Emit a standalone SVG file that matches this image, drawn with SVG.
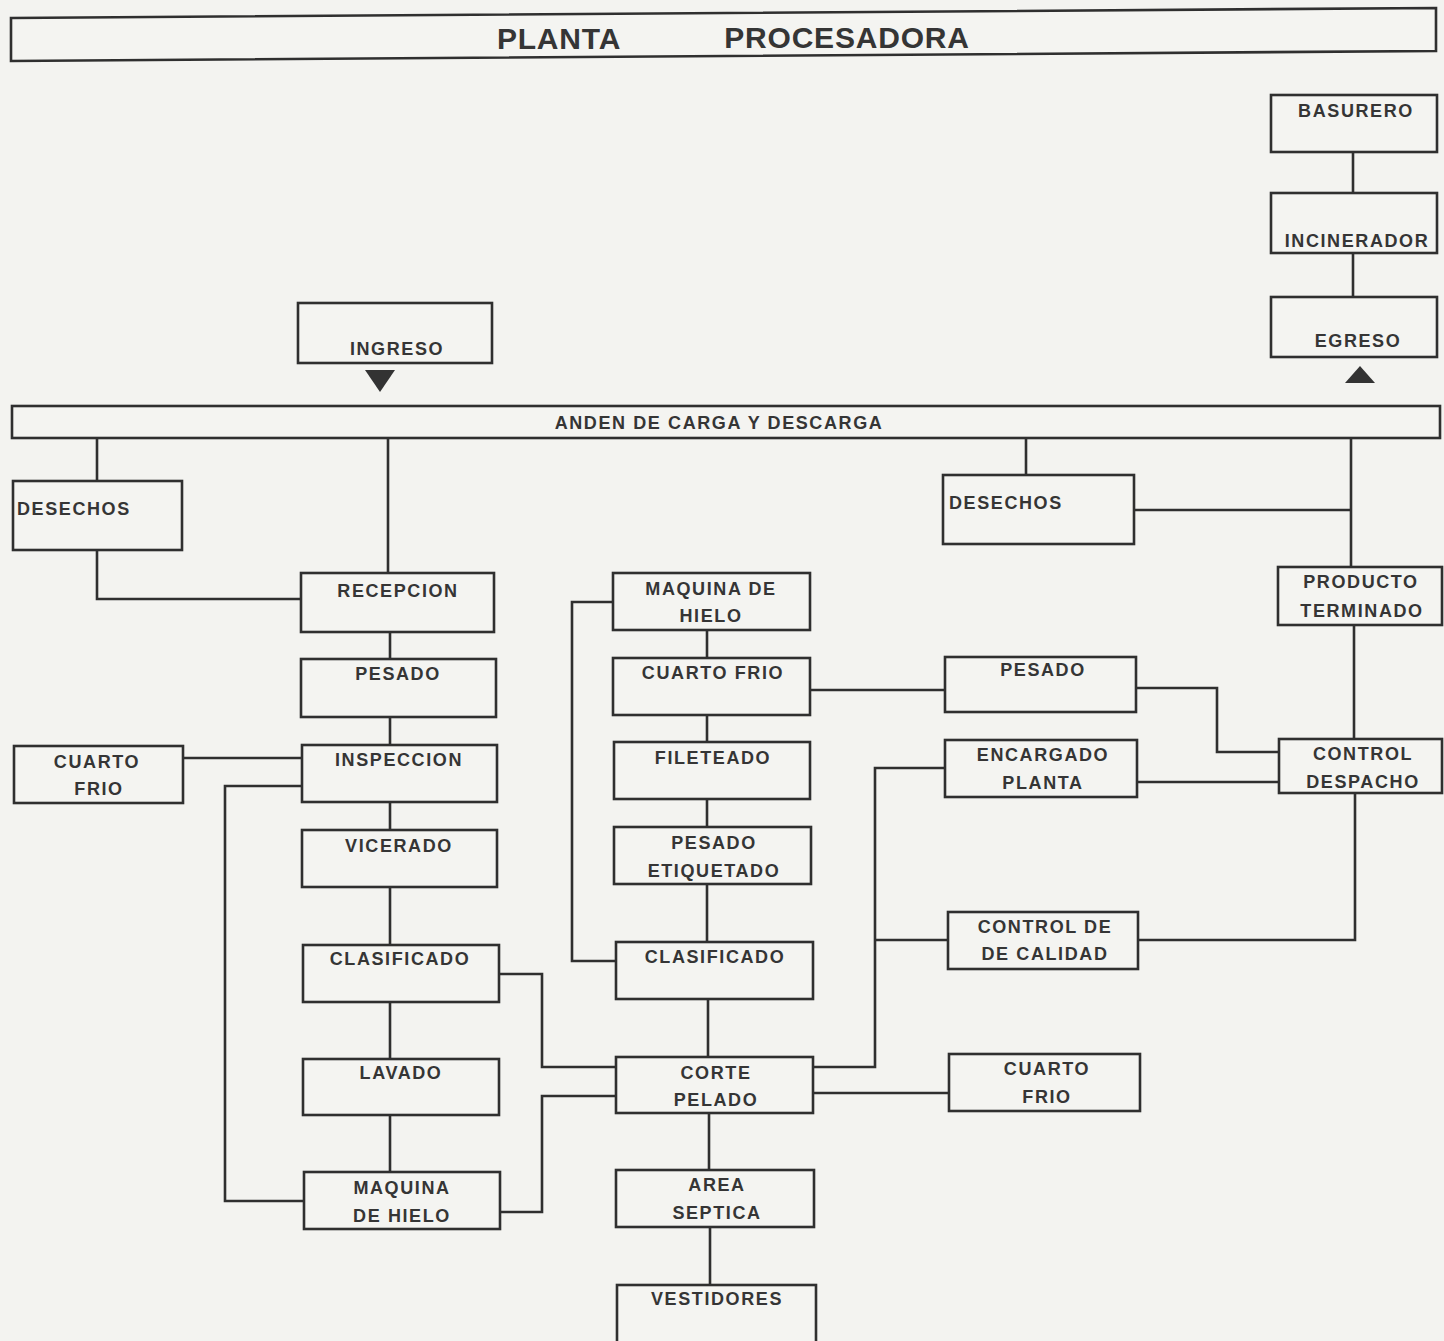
<svg xmlns="http://www.w3.org/2000/svg" width="1444" height="1341" viewBox="0 0 1444 1341">
  <style>
    .box { fill: #f4f4f1; stroke: #2f2f2f; stroke-width: 2.6; }
    .ln { fill: none; stroke: #2f2f2f; stroke-width: 2.6; }
    .lbl { font-family: "Liberation Sans", Arial, sans-serif; font-weight: bold; font-size: 18px; fill: #353535; letter-spacing: 1.6px; text-anchor: middle; }
    .lft { text-anchor: start; }
    .ttl { font-family: "Liberation Sans", Arial, sans-serif; font-weight: bold; font-size: 30px; fill: #353535; letter-spacing: 0.8px; text-anchor: middle; }
    .tri { fill: #333333; }
  </style>
  <rect width="1444" height="1341" fill="#f3f3f0"/>

  <!-- connectors -->
  <g id="connectors">
    <line class="ln" x1="1353" y1="152" x2="1353" y2="193"/>
    <line class="ln" x1="1353" y1="253" x2="1353" y2="297"/>
    <line class="ln" x1="97" y1="438" x2="97" y2="481"/>
    <polyline class="ln" points="97,550 97,599 301,599"/>
    <line class="ln" x1="388" y1="438" x2="388" y2="573"/>
    <line class="ln" x1="390" y1="632" x2="390" y2="659"/>
    <line class="ln" x1="390" y1="717" x2="390" y2="745"/>
    <line class="ln" x1="390" y1="802" x2="390" y2="830"/>
    <line class="ln" x1="390" y1="887" x2="390" y2="945"/>
    <line class="ln" x1="390" y1="1002" x2="390" y2="1059"/>
    <line class="ln" x1="390" y1="1115" x2="390" y2="1172"/>
    <line class="ln" x1="183" y1="758" x2="302" y2="758"/>
    <polyline class="ln" points="302,786 225,786 225,1201 304,1201"/>
    <polyline class="ln" points="499,974 542,974 542,1067 616,1067"/>
    <polyline class="ln" points="500,1212 542,1212 542,1096 616,1096"/>
    <polyline class="ln" points="613,602 572,602 572,961 616,961"/>
    <line class="ln" x1="707" y1="630" x2="707" y2="658"/>
    <line class="ln" x1="707" y1="715" x2="707" y2="742"/>
    <line class="ln" x1="707" y1="799" x2="707" y2="827"/>
    <line class="ln" x1="707" y1="884" x2="707" y2="942"/>
    <line class="ln" x1="708" y1="999" x2="708" y2="1057"/>
    <line class="ln" x1="709" y1="1113" x2="709" y2="1170"/>
    <line class="ln" x1="710" y1="1227" x2="710" y2="1285"/>
    <line class="ln" x1="810" y1="690" x2="945" y2="690"/>
    <polyline class="ln" points="1136,688 1217,688 1217,752 1279,752"/>
    <line class="ln" x1="1137" y1="782" x2="1279" y2="782"/>
    <polyline class="ln" points="945,768 875,768 875,1067 813,1067"/>
    <line class="ln" x1="948" y1="940" x2="875" y2="940"/>
    <polyline class="ln" points="1138,940 1355,940 1355,793"/>
    <line class="ln" x1="813" y1="1093" x2="949" y2="1093"/>
    <line class="ln" x1="1026" y1="438" x2="1026" y2="475"/>
    <line class="ln" x1="1134" y1="510" x2="1351" y2="510"/>
    <line class="ln" x1="1351" y1="438" x2="1351" y2="567"/>
    <line class="ln" x1="1354" y1="625" x2="1354" y2="739"/>
  </g>

  <!-- title banner -->
  <g id="titulo">
    <polygon class="box" points="11,18 1436,8 1436,51 11,61"/>
    <text class="ttl" x="559" y="49">PLANTA</text>
    <text class="ttl" x="847" y="48">PROCESADORA</text>
  </g>

  <g id="basurero">
    <rect class="box" x="1271" y="95" width="166" height="57"/>
    <text class="lbl" x="1356" y="117">BASURERO</text>
  </g>
  <g id="incinerador">
    <rect class="box" x="1271" y="193" width="166" height="60"/>
    <text class="lbl" x="1357" y="246.5">INCINERADOR</text>
  </g>
  <g id="egreso">
    <rect class="box" x="1271" y="297" width="166" height="60"/>
    <text class="lbl" x="1358" y="347">EGRESO</text>
    <polygon class="tri" points="1360,366 1375,383 1345,383"/>
  </g>
  <g id="ingreso">
    <rect class="box" x="298" y="303" width="194" height="60"/>
    <text class="lbl" x="397" y="355">INGRESO</text>
    <polygon class="tri" points="365,370 395,370 380,392"/>
  </g>
  <g id="anden">
    <rect class="box" x="12" y="406" width="1428" height="32"/>
    <text class="lbl" x="719" y="428.5">ANDEN DE CARGA Y DESCARGA</text>
  </g>

  <g id="desechos-izq">
    <rect class="box" x="13" y="481" width="169" height="69"/>
    <text class="lbl lft" x="17" y="514.5">DESECHOS</text>
  </g>
  <g id="recepcion">
    <rect class="box" x="301" y="573" width="193" height="59"/>
    <text class="lbl" x="398" y="596.5">RECEPCION</text>
  </g>
  <g id="pesado-izq">
    <rect class="box" x="301" y="659" width="195" height="58"/>
    <text class="lbl" x="398" y="679.5">PESADO</text>
  </g>
  <g id="inspeccion">
    <rect class="box" x="302" y="745" width="195" height="57"/>
    <text class="lbl" x="399" y="765.5">INSPECCION</text>
  </g>
  <g id="cuarto-frio-izq">
    <rect class="box" x="14" y="746" width="169" height="57"/>
    <text class="lbl" x="97" y="767.5">CUARTO</text>
    <text class="lbl" x="99" y="794.5">FRIO</text>
  </g>
  <g id="vicerado">
    <rect class="box" x="302" y="830" width="195" height="57"/>
    <text class="lbl" x="399" y="851.5">VICERADO</text>
  </g>
  <g id="clasificado-izq">
    <rect class="box" x="303" y="945" width="196" height="57"/>
    <text class="lbl" x="400" y="964.5">CLASIFICADO</text>
  </g>
  <g id="lavado">
    <rect class="box" x="303" y="1059" width="196" height="56"/>
    <text class="lbl" x="401" y="1078.5">LAVADO</text>
  </g>
  <g id="maquina-hielo-izq">
    <rect class="box" x="304" y="1172" width="196" height="57"/>
    <text class="lbl" x="402" y="1193.5">MAQUINA</text>
    <text class="lbl" x="402" y="1221.5">DE HIELO</text>
  </g>

  <g id="maquina-hielo-centro">
    <rect class="box" x="613" y="573" width="197" height="57"/>
    <text class="lbl" x="711" y="594.5">MAQUINA DE</text>
    <text class="lbl" x="711" y="621.5">HIELO</text>
  </g>
  <g id="cuarto-frio-centro">
    <rect class="box" x="613" y="658" width="197" height="57"/>
    <text class="lbl" x="713" y="678.5">CUARTO FRIO</text>
  </g>
  <g id="fileteado">
    <rect class="box" x="614" y="742" width="196" height="57"/>
    <text class="lbl" x="713" y="763.5">FILETEADO</text>
  </g>
  <g id="pesado-etiquetado">
    <rect class="box" x="614" y="827" width="197" height="57"/>
    <text class="lbl" x="714" y="848.5">PESADO</text>
    <text class="lbl" x="714" y="876.5">ETIQUETADO</text>
  </g>
  <g id="clasificado-centro">
    <rect class="box" x="616" y="942" width="197" height="57"/>
    <text class="lbl" x="715" y="962.5">CLASIFICADO</text>
  </g>
  <g id="corte-pelado">
    <rect class="box" x="616" y="1057" width="197" height="56"/>
    <text class="lbl" x="716" y="1078.5">CORTE</text>
    <text class="lbl" x="716" y="1105.5">PELADO</text>
  </g>
  <g id="area-septica">
    <rect class="box" x="616" y="1170" width="198" height="57"/>
    <text class="lbl" x="717" y="1190.5">AREA</text>
    <text class="lbl" x="717" y="1218.5">SEPTICA</text>
  </g>
  <g id="vestidores">
    <rect class="box" x="617" y="1285" width="199" height="62"/>
    <text class="lbl" x="717" y="1304.5">VESTIDORES</text>
  </g>

  <g id="desechos-der">
    <rect class="box" x="943" y="475" width="191" height="69"/>
    <text class="lbl lft" x="949" y="508.5">DESECHOS</text>
  </g>
  <g id="producto-terminado">
    <rect class="box" x="1278" y="567" width="164" height="58"/>
    <text class="lbl" x="1361" y="587.5">PRODUCTO</text>
    <text class="lbl" x="1362" y="616.5">TERMINADO</text>
  </g>
  <g id="pesado-der">
    <rect class="box" x="945" y="657" width="191" height="55"/>
    <text class="lbl" x="1043" y="675.5">PESADO</text>
  </g>
  <g id="encargado-planta">
    <rect class="box" x="945" y="740" width="192" height="57"/>
    <text class="lbl" x="1043" y="760.5">ENCARGADO</text>
    <text class="lbl" x="1043" y="788.5">PLANTA</text>
  </g>
  <g id="control-despacho">
    <rect class="box" x="1279" y="739" width="163" height="54"/>
    <text class="lbl" x="1363" y="759.5">CONTROL</text>
    <text class="lbl" x="1363" y="787.5">DESPACHO</text>
  </g>
  <g id="control-calidad">
    <rect class="box" x="948" y="912" width="190" height="57"/>
    <text class="lbl" x="1045" y="932.5">CONTROL DE</text>
    <text class="lbl" x="1045" y="959.5">DE CALIDAD</text>
  </g>
  <g id="cuarto-frio-der">
    <rect class="box" x="949" y="1054" width="191" height="57"/>
    <text class="lbl" x="1047" y="1074.5">CUARTO</text>
    <text class="lbl" x="1047" y="1102.5">FRIO</text>
  </g>
</svg>
